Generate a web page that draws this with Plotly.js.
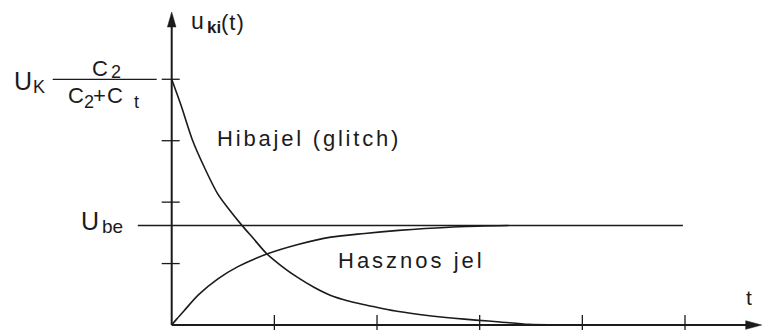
<!DOCTYPE html>
<html>
<head>
<meta charset="utf-8">
<script src="https://cdn.plot.ly/plotly-3.0.1.min.js"></script>
<style>
  html, body { margin: 0; padding: 0; background: #ffffff; }
  #chart { width: 767px; height: 331px; }
</style>
</head>
<body>
<div id="chart"></div>
<script>
// Time is measured in tick steps; voltages in units of the y tick step.
// Glitch: decaying transient starting at U_K*C2/(C2+Ct)
const tGlitch = [0, 0.09, 0.20, 0.32, 0.45, 0.55, 0.68, 0.80, 0.92, 1.07, 1.23, 1.39, 1.55, 1.72, 1.88, 2.05, 2.21, 2.47, 2.75, 2.96, 3.20, 3.48, 4.00];
const vGlitch = [4.00, 3.58, 3.02, 2.56, 2.13, 1.90, 1.63, 1.40, 1.17, 0.96, 0.77, 0.61, 0.48, 0.39, 0.33, 0.27, 0.22, 0.16, 0.11, 0.08, 0.05, 0.01, 0.00];

// Useful signal: rises towards U_be
const tUseful = [0, 0.05, 0.13, 0.26, 0.45, 0.645, 0.92, 1.23, 1.55, 1.88, 2.21, 2.47, 2.80, 3.28];
const vUseful = [0, 0.10, 0.25, 0.49, 0.75, 0.95, 1.15, 1.31, 1.43, 1.49, 1.54, 1.57, 1.60, 1.62];

const uBe = 1.62;               // level of U_be
const uMax = 4;                 // U_K * C2/(C2+Ct)
const uBeSpan = [-0.33, 4.98];  // extent of the U_be level line
const xTicks = [1, 2, 3, 4, 5];
const yTicks = [1, 2, 3, 4];
const tEnd = 5.747;             // tip of the t axis arrow
const uTop = 5.095;             // tip of the u axis arrow

const W = 767, H = 331;
const INK = '#1b1b1b';
const FONT = 'Liberation Sans, Arial, sans-serif';

const traces = [
  { x: tGlitch, y: vGlitch, mode: 'lines', line: { color: INK, width: 1.6, shape: 'spline', smoothing: 0.8 }, hoverinfo: 'skip' },
  { x: tUseful, y: vUseful, mode: 'lines', line: { color: INK, width: 1.6, shape: 'spline', smoothing: 0.8 }, hoverinfo: 'skip' },
  { x: uBeSpan, y: [uBe, uBe], mode: 'lines', line: { color: INK, width: 1.4 }, hoverinfo: 'skip' }
];

const shapes = [];
// axes
shapes.push({ type: 'line', xref: 'x', yref: 'y', x0: 0, x1: tEnd - 0.1, y0: 0, y1: 0, line: { color: INK, width: 2 } });
shapes.push({ type: 'line', xref: 'x', yref: 'y', x0: 0, x1: 0, y0: 0, y1: uTop - 0.15, line: { color: INK, width: 2 } });
// arrow heads
shapes.push({ type: 'path', xref: 'x', yref: 'y', xsizemode: 'pixel', ysizemode: 'pixel', xanchor: 0, yanchor: uTop,
  path: 'M0,0 L-4.3,-15 L4.3,-15 Z', fillcolor: INK, line: { color: INK, width: 0.5 } });
shapes.push({ type: 'path', xref: 'x', yref: 'y', xsizemode: 'pixel', ysizemode: 'pixel', xanchor: tEnd, yanchor: 0,
  path: 'M0,0 L-16,4.3 L-16,-4.3 Z', fillcolor: INK, line: { color: INK, width: 0.5 } });
// tick marks crossing the axes
xTicks.forEach(t => shapes.push({ type: 'line', xref: 'x', yref: 'y', ysizemode: 'pixel', yanchor: 0,
  x0: t, x1: t, y0: -5, y1: 10, line: { color: INK, width: 1.3 } }));
yTicks.forEach(v => shapes.push({ type: 'line', xref: 'x', yref: 'y', xsizemode: 'pixel', xanchor: 0,
  x0: -10, x1: 8, y0: v, y1: v, line: { color: INK, width: 1.3 } }));
// fraction bar of the start level label
shapes.push({ type: 'line', xref: 'x', yref: 'y', xsizemode: 'pixel', xanchor: 0,
  x0: -119, x1: -15, y0: uMax, y1: uMax, line: { color: INK, width: 1.3 } });

// text pieces: x = centre (or left edge), base = baseline in px from top
const labels = [
  { text: 'U', x: 22.5, base: 90, fs: 25 },
  { text: 'K', x: 39, base: 93, fs: 18 },
  { text: 'C', x: 99.5, base: 76, fs: 22 },
  { text: '2', x: 115.5, base: 78.5, fs: 18 },
  { text: 'C', x: 75.5, base: 103, fs: 22 },
  { text: '2', x: 88.5, base: 108, fs: 18 },
  { text: '+', x: 99.5, base: 103, fs: 22 },
  { text: 'C', x: 115, base: 103, fs: 22 },
  { text: 't', x: 136.5, base: 108, fs: 18 },
  { text: 'U', x: 89.5, base: 229.5, fs: 25 },
  { text: 'be', x: 113, base: 233.5, fs: 19 },
  { text: 'u', x: 197.5, base: 29, fs: 23 },
  { text: '<b>ki</b>', x: 214.5, base: 33, fs: 17 },
  { text: '<span style="letter-spacing:1px">(t)</span>', x: 233, base: 30, fs: 22 },
  { text: 't', x: 748.5, base: 305, fs: 21 },
  { text: '<span style="letter-spacing:2.8px">Hibajel (glitch)</span>', x: 215.5, base: 146, fs: 22, left: true },
  { text: '<span style="letter-spacing:3px">Hasznos jel</span>', x: 337, base: 268.5, fs: 22, left: true }
];

const annotations = labels.map(l => ({
  text: l.text,
  xref: 'paper', yref: 'paper',
  x: l.x / W,
  y: 1 - (l.base - 0.3465 * l.fs) / H,
  xanchor: l.left ? 'left' : 'center',
  yanchor: 'middle',
  showarrow: false,
  borderpad: 0,
  font: { family: FONT, size: l.fs, color: INK }
}));

const layout = {
  width: W, height: H,
  margin: { l: 0, r: 0, t: 0, b: 0 },
  paper_bgcolor: '#ffffff',
  plot_bgcolor: '#ffffff',
  showlegend: false,
  xaxis: { range: [-1.6725, 5.7988], visible: false, fixedrange: true },
  yaxis: { range: [-0.0977, 5.2906], visible: false, fixedrange: true },
  shapes: shapes,
  annotations: annotations
};

Plotly.newPlot('chart', traces, layout, { displayModeBar: false, staticPlot: true });
</script>
</body>
</html>
